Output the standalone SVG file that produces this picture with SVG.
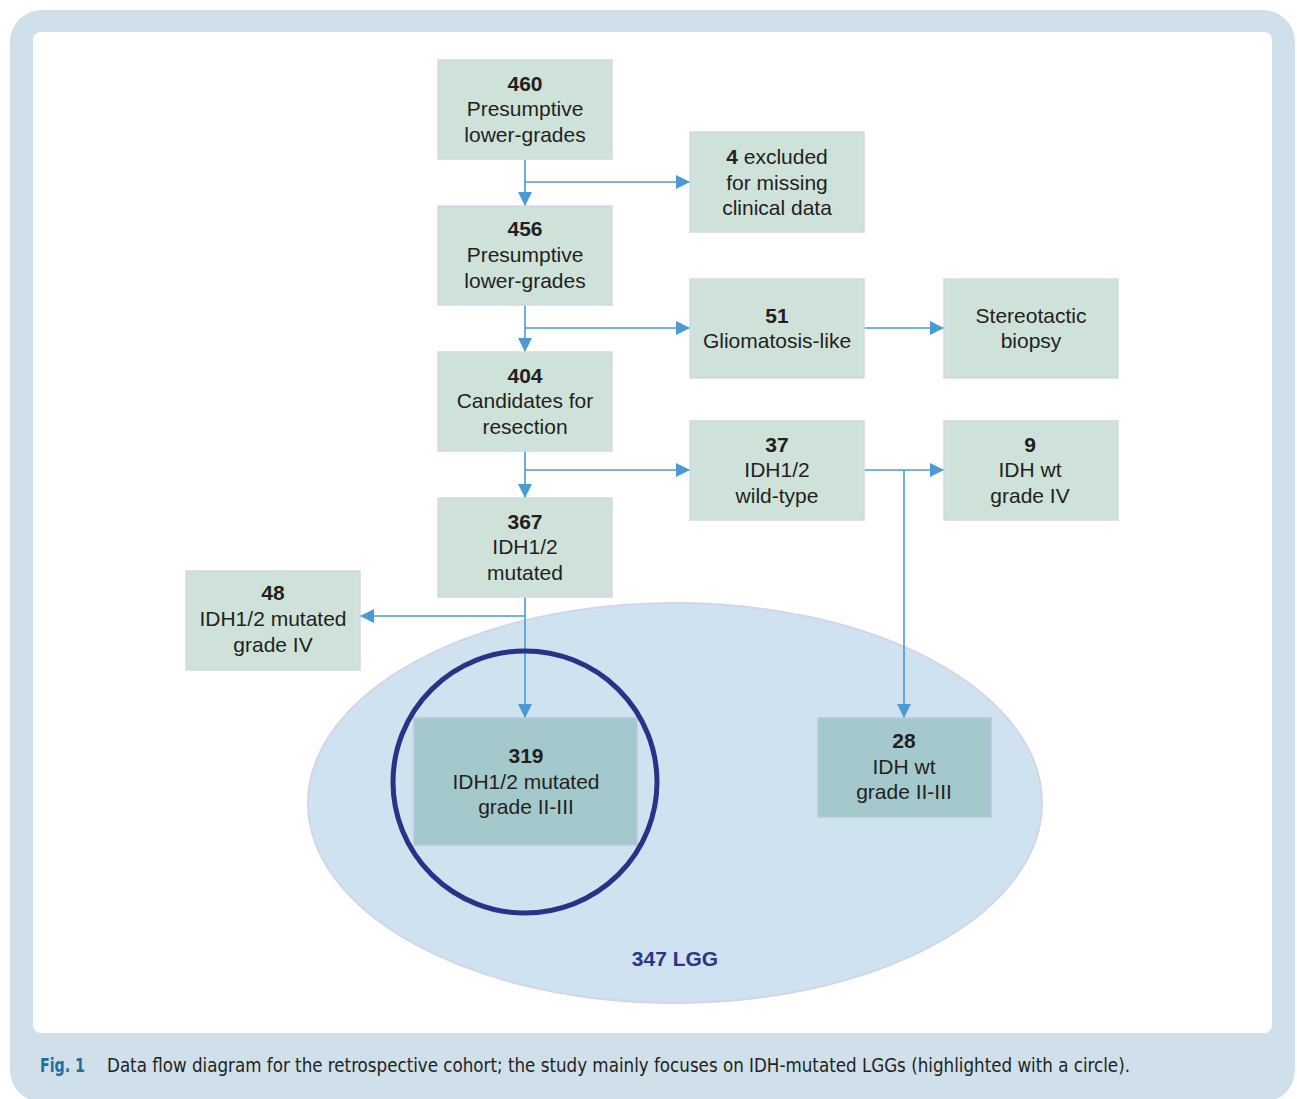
<svg xmlns="http://www.w3.org/2000/svg" width="1297" height="1099" viewBox="0 0 1297 1099">
<defs>
<style>
.node rect{fill:#cfe2d9;stroke:#d6d6ea;stroke-width:1.5}
.node.dark rect{fill:#a3c9cc;stroke:#c0c4e0}
.t{font-family:"Liberation Sans",Arial,sans-serif;font-size:21px;fill:#231f20;text-anchor:middle}
.b{font-weight:bold}
.conn line,.conn path{stroke:#4a9ad4;stroke-width:1.6;fill:none}
.cap{font-family:"Liberation Sans Narrow","DejaVu Sans Condensed",sans-serif;font-size:19px;fill:#231f20}
</style>
<marker id="ah" viewBox="0 0 14 14" refX="14" refY="7" markerWidth="14" markerHeight="14" markerUnits="userSpaceOnUse" orient="auto">
<path d="M0,0 L14,7 L0,14 Z" fill="#4a9ad4"/>
</marker>
</defs>
<rect x="10" y="10" width="1285" height="1092" rx="32" fill="#cfe0ea"/>
<rect x="33" y="32" width="1239" height="1001" rx="8" fill="#ffffff"/>

<g id="lgg-ellipse">
<ellipse cx="675" cy="803" rx="367" ry="200" fill="#cfe2ef" stroke="#d4d4ec" stroke-width="2"/>
<text class="t b" x="675" y="966" style="fill:#2d3589">347 LGG</text>
</g>

<g class="conn" id="connectors">
<line x1="525" y1="159" x2="525" y2="206" marker-end="url(#ah)"/>
<line x1="525" y1="182" x2="690" y2="182" marker-end="url(#ah)"/>
<line x1="525" y1="305" x2="525" y2="352" marker-end="url(#ah)"/>
<line x1="525" y1="328" x2="690" y2="328" marker-end="url(#ah)"/>
<line x1="864" y1="328" x2="944" y2="328" marker-end="url(#ah)"/>
<line x1="525" y1="451" x2="525" y2="498" marker-end="url(#ah)"/>
<line x1="525" y1="470" x2="690" y2="470" marker-end="url(#ah)"/>
<line x1="864" y1="470" x2="944" y2="470" marker-end="url(#ah)"/>
<line x1="904" y1="470" x2="904" y2="718" marker-end="url(#ah)"/>
<line x1="525" y1="597" x2="525" y2="718" marker-end="url(#ah)"/>
<line x1="525" y1="616" x2="360" y2="616" marker-end="url(#ah)"/>
</g>

<g class="node" id="n460">
<rect x="438" y="60" width="174" height="99"/>
<text class="t b" x="525" y="91">460</text>
<text class="t" x="525" y="116">Presumptive</text>
<text class="t" x="525" y="142">lower-grades</text>
</g>
<g class="node" id="n4">
<rect x="690" y="132" width="174" height="100"/>
<text class="t" x="777" y="164"><tspan class="b">4</tspan> excluded</text>
<text class="t" x="777" y="190">for missing</text>
<text class="t" x="777" y="215">clinical data</text>
</g>
<g class="node" id="n456">
<rect x="438" y="206" width="174" height="99"/>
<text class="t b" x="525" y="236">456</text>
<text class="t" x="525" y="262">Presumptive</text>
<text class="t" x="525" y="288">lower-grades</text>
</g>
<g class="node" id="n51">
<rect x="690" y="279" width="174" height="99"/>
<text class="t b" x="777" y="323">51</text>
<text class="t" x="777" y="348">Gliomatosis-like</text>
</g>
<g class="node" id="nstereo">
<rect x="944" y="279" width="174" height="99"/>
<text class="t" x="1031" y="323">Stereotactic</text>
<text class="t" x="1031" y="348">biopsy</text>
</g>
<g class="node" id="n404">
<rect x="438" y="352" width="174" height="99"/>
<text class="t b" x="525" y="383">404</text>
<text class="t" x="525" y="408">Candidates for</text>
<text class="t" x="525" y="434">resection</text>
</g>
<g class="node" id="n37">
<rect x="690" y="421" width="174" height="99"/>
<text class="t b" x="777" y="452">37</text>
<text class="t" x="777" y="477">IDH1/2</text>
<text class="t" x="777" y="503">wild-type</text>
</g>
<g class="node" id="n9">
<rect x="944" y="421" width="174" height="99"/>
<text class="t b" x="1030" y="452">9</text>
<text class="t" x="1030" y="477">IDH wt</text>
<text class="t" x="1030" y="503">grade IV</text>
</g>
<g class="node" id="n367">
<rect x="438" y="498" width="174" height="99"/>
<text class="t b" x="525" y="529">367</text>
<text class="t" x="525" y="554">IDH1/2</text>
<text class="t" x="525" y="580">mutated</text>
</g>
<g class="node" id="n48">
<rect x="186" y="571" width="174" height="99"/>
<text class="t b" x="273" y="600">48</text>
<text class="t" x="273" y="626">IDH1/2 mutated</text>
<text class="t" x="273" y="652">grade IV</text>
</g>
<g class="node dark" id="n319">
<rect x="414" y="718" width="223" height="127"/>
<text class="t b" x="526" y="763">319</text>
<text class="t" x="526" y="789">IDH1/2 mutated</text>
<text class="t" x="526" y="814">grade II-III</text>
</g>
<g class="node dark" id="n28">
<rect x="818" y="718" width="173" height="99"/>
<text class="t b" x="904" y="748">28</text>
<text class="t" x="904" y="774">IDH wt</text>
<text class="t" x="904" y="799">grade II-III</text>
</g>

<g id="highlight">
<ellipse cx="525" cy="782" rx="132" ry="131" fill="none" stroke="#2b3186" stroke-width="5"/>
</g>

<g id="caption">
<text class="cap" x="40" y="1072" textLength="45" lengthAdjust="spacingAndGlyphs" style="font-weight:bold;fill:#1f6f9e">Fig. 1</text>
<text class="cap" x="107" y="1072" textLength="1023" lengthAdjust="spacingAndGlyphs">Data flow diagram for the retrospective cohort; the study mainly focuses on IDH-mutated LGGs (highlighted with a circle).</text>
</g>
</svg>
